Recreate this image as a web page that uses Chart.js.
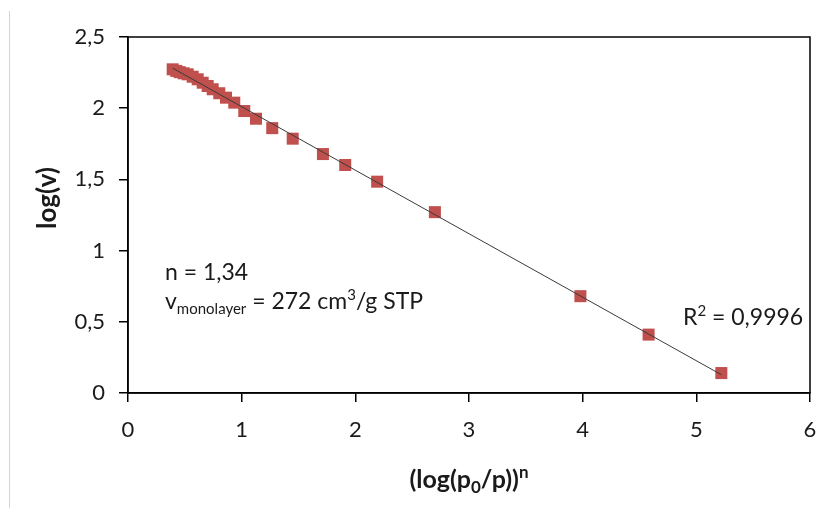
<!DOCTYPE html>
<html>
<head>
<meta charset="utf-8">
<script src="https://cdn.jsdelivr.net/npm/chart.js@4"></script>
<style>
    body { margin: 0; background: #fff; }
    #wrap { position: relative; width: 822px; height: 508px; }
    #edge { position: absolute; left: 9px; top: 11px; width: 1px; height: 497px; background: #d6d6d6; }
</style>
</head>
<body>
<div id="wrap">
    <canvas id="chart" width="822" height="508"></canvas>
    <div id="edge"></div>
</div>
<script>
// Data
const xValues = [0.393, 0.425, 0.455, 0.490, 0.525, 0.569, 0.613, 0.657, 0.701, 0.745,
    0.803, 0.862, 0.935, 1.023, 1.126, 1.269, 1.449, 1.715, 1.911, 2.192,
    2.700, 3.980, 4.580, 5.220];
const yValues = [2.273, 2.262, 2.253, 2.245, 2.238, 2.221, 2.203, 2.179, 2.156, 2.133,
    2.105, 2.074, 2.039, 1.980, 1.926, 1.860, 1.786, 1.678, 1.601, 1.484,
    1.270, 0.680, 0.410, 0.140];
const xTicks = [0, 1, 2, 3, 4, 5, 6];
const yTicks = [0, 0.5, 1, 1.5, 2, 2.5];

const FONT = 'Lato, "Open Sans", sans-serif';
const TEXT = '#1a1a1a';
const RED = '#c0504d';

// Least squares trendline (as Excel draws it)
function linearFit(xs, ys) {
    const n = xs.length;
    let sx = 0, sy = 0, sxx = 0, sxy = 0;
    for (let i = 0; i < n; i++) {
        sx += xs[i]; sy += ys[i];
        sxx += xs[i] * xs[i]; sxy += xs[i] * ys[i];
    }
    const slope = (n * sxy - sx * sy) / (n * sxx - sx * sx);
    return { slope, intercept: (sy - slope * sx) / n };
}

const fit = linearFit(xValues, yValues);
const xMin = Math.min(...xValues);
const xMax = Math.max(...xValues);
const trend = [xMin, xMax].map(x => ({ x, y: fit.intercept + fit.slope * x }));
const points = xValues.map((x, i) => ({ x, y: yValues[i] }));

// Text with sub/superscripts
function measureRich(ctx, parts) {
    let w = 0;
    parts.forEach(p => {
        ctx.font = `${p.bold ? 'bold ' : ''}${p.size}px ${FONT}`;
        w += ctx.measureText(p.t).width;
    });
    return w;
}

function drawRich(ctx, x, y, parts) {
    let cx = x;
    parts.forEach(p => {
        ctx.font = `${p.bold ? 'bold ' : ''}${p.size}px ${FONT}`;
        ctx.fillText(p.t, cx, y + (p.dy || 0));
        cx += ctx.measureText(p.t).width;
    });
}

const decorations = {
    id: 'decorations',
    afterDraw(chart) {
        const { ctx, chartArea: a } = chart;
        ctx.save();

        // frame round the plot area
        ctx.strokeStyle = '#000';
        ctx.lineWidth = 1.5;
        ctx.strokeRect(a.left, a.top, a.right - a.left, a.bottom - a.top);

        ctx.fillStyle = TEXT;
        ctx.textBaseline = 'alphabetic';
        ctx.textAlign = 'left';

        // annotations
        drawRich(ctx, 165, 280, [{ t: 'n = 1,34', size: 23 }]);
        drawRich(ctx, 165, 309, [
            { t: 'v', size: 23 },
            { t: 'monolayer', size: 15, dy: 5 },
            { t: ' = 272 cm', size: 23 },
            { t: '3', size: 15, dy: -9 },
            { t: '/g STP', size: 23 }
        ]);
        drawRich(ctx, 683, 325, [
            { t: 'R', size: 23 },
            { t: '2', size: 15, dy: -9 },
            { t: ' = 0,9996', size: 23 }
        ]);

        // x axis title, centred under the plot
        const xParts = [
            { t: '(log(p', size: 25, bold: true },
            { t: '0', size: 17, bold: true, dy: 5 },
            { t: '/p))', size: 25, bold: true },
            { t: 'n', size: 17, bold: true, dy: -10 }
        ];
        const w = measureRich(ctx, xParts);
        drawRich(ctx, (a.left + a.right) / 2 - w / 2, 488, xParts);

        // y axis title
        ctx.translate(56, 198);
        ctx.rotate(-Math.PI / 2);
        ctx.textAlign = 'center';
        ctx.font = `bold 26px ${FONT}`;
        ctx.fillText('log(v)', 0, 0);

        ctx.restore();
    }
};

const axisGrid = {
    drawOnChartArea: false,
    drawTicks: true,
    tickLength: 9,
    color: '#000',
    lineWidth: 1.5
};

new Chart(document.getElementById('chart'), {
    type: 'scatter',
    data: {
        datasets: [{
            type: 'line',
            label: 'trend',
            data: trend,
            borderColor: '#3a3a3a',
            borderWidth: 1,
            pointRadius: 0,
            fill: false
        }, {
            label: 'log(v)',
            data: points,
            pointStyle: 'rect',
            pointRadius: 8.5,
            pointHoverRadius: 8.5,
            backgroundColor: RED,
            borderColor: RED,
            borderWidth: 0
        }]
    },
    options: {
        responsive: false,
        animation: false,
        devicePixelRatio: 1,
        layout: { padding: { top: 37, right: 0, left: 0, bottom: 0 } },
        plugins: {
            legend: { display: false },
            tooltip: { enabled: false }
        },
        scales: {
            x: {
                type: 'linear',
                min: xTicks[0],
                max: xTicks[xTicks.length - 1],
                afterBuildTicks: s => { s.ticks = xTicks.map(v => ({ value: v })); },
                afterFit: s => { s.height = 115; s.paddingRight = 12; s.paddingLeft = 0; },
                ticks: {
                    font: { family: FONT, size: 22 },
                    color: TEXT,
                    padding: 15
                },
                grid: axisGrid,
                border: { color: '#000', width: 1.5 }
            },
            y: {
                min: yTicks[0],
                max: yTicks[yTicks.length - 1],
                afterBuildTicks: s => { s.ticks = yTicks.map(v => ({ value: v })); },
                afterFit: s => { s.width = 128; s.paddingTop = 0; s.paddingBottom = 0; },
                ticks: {
                    font: { family: FONT, size: 22 },
                    color: TEXT,
                    padding: 14,
                    callback: v => String(v).replace('.', ',')
                },
                grid: axisGrid,
                border: { color: '#000', width: 1.5 }
            }
        }
    },
    plugins: [decorations]
});
</script>
</body>
</html>
